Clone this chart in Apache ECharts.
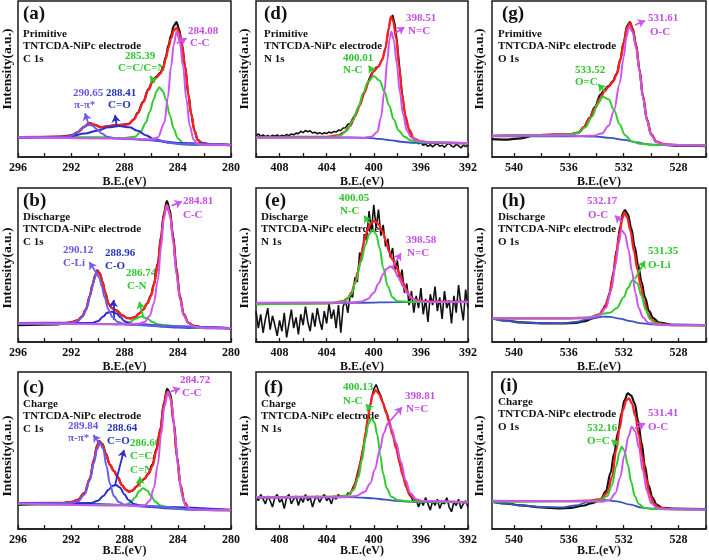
<!DOCTYPE html>
<html><head><meta charset="utf-8">
<script src="https://cdn.jsdelivr.net/npm/echarts@6/dist/echarts.min.js"></script>
<style>html,body{margin:0;padding:0;background:#fff}#c{width:709px;height:560px}</style>
</head><body><div id="c"></div>
<script>
// ---------- tick labels ----------
const C_LABELS = [280,284,288,292,296];
const C_TICKS  = [280,282,284,286,288,290,292,294,296];
const N_LABELS = [392,396,400,404,408];
const N_TICKS  = [392,394,396,398,400,402,404,406,408,410];
const O_LABELS = [528,532,536,540];
const O_TICKS  = [526,528,530,532,534,536,538,540];

// ---------- texts ----------
const PANEL_LETTERS = ['(a)','(b)','(c)','(d)','(e)','(f)','(g)','(h)','(i)'];
const STATES = ['Primitive','Discharge','Charge'];
const ELECTRODE = 'TNTCDA-NiPc electrode';
const LEVELS = ['C 1s','N 1s','O 1s'];
const X_NAME = 'B.E.(eV)';
const Y_NAME = 'Intensity(a.u.)';

// ---------- (a) Primitive C 1s ----------
const a_raw = [[296,12.6],[294,12.8],[292.5,13],[292,13.8],[291.5,16],[291,19.5],[290.65,21.8],[290.2,20.5],[289.8,19.2],[289.3,19.6],[288.8,20.3],[288.2,20.6],[287.7,21.2],[287.3,24.2],[287,28.5],[286.6,35.5],[286.2,43.5],[285.9,48.5],[285.6,51.5],[285.3,54],[285.1,57.5],[284.9,64],[284.7,71.5],[284.5,78],[284.3,84],[284.1,86.5],[283.9,82],[283.7,73],[283.45,58.5],[283.2,40],[283,28],[282.75,17],[282.5,11],[282.2,9],[281.5,8],[280,7.6]];
const a_fit = [[296,12.8],[293,13],[292,13.8],[291.5,16],[291,19.5],[290.65,21.6],[290.2,20.5],[289.8,19],[289.3,19.5],[288.8,20.2],[288.2,20.5],[287.7,21],[287.3,24],[287,28],[286.6,35],[286.2,43],[285.9,48],[285.6,51],[285.3,53.5],[285.1,57],[284.9,63],[284.7,70],[284.5,76],[284.3,81],[284.1,82.7],[283.9,80],[283.7,72],[283.45,58],[283.2,40],[283,28],[282.75,17],[282.5,11],[282.2,9],[281.5,8],[280,7.7]];
const a_bg  = [[296,12.6],[290,12.4],[288,11.8],[286.5,11],[285.5,10.2],[284.5,9],[283.5,8],[282.5,7.7],[280,7.6]];
const a_pi  = [[296,12.6],[292.5,12.8],[292,13.5],[291.6,15.5],[291.2,18.5],[290.9,20],[290.65,20.5],[290.4,20],[290.1,18],[289.7,15],[289.3,13],[288.8,12],[288,11.5],[286,11],[284,8.5],[280,7.7]];
const a_co  = [[296,12.6],[293,12.8],[292,13.5],[291,15],[290,17],[289.2,19],[288.41,19.9],[287.6,19],[287,16.8],[286.4,14],[285.8,11.5],[285,10],[284,9],[280,7.7]];
const a_ccn = [[296,12.8],[290,12.6],[288,12.2],[287.2,13],[286.8,16],[286.4,22],[286.1,29],[285.8,37],[285.6,42],[285.39,44.7],[285.1,42],[284.9,37],[284.6,27],[284.3,18],[284,12],[283.6,9],[283,8],[280,7.7]];
const a_cc  = [[296,12.6],[288,11.8],[286,11.4],[285.5,12.5],[285,22],[284.75,38],[284.5,58],[284.3,72],[284.08,80.3],[283.85,74],[283.6,58],[283.35,37],[283.1,20],[282.8,11],[282.5,8.3],[282,7.8],[280,7.7]];

// ---------- (b) Discharge C 1s ----------
const b_raw = [[296,11],[293,11.5],[292.5,12.2],[292,12.8],[291.5,14],[291.2,16.5],[290.9,21],[290.6,30],[290.4,37.5],[290.2,43.5],[290.05,46.5],[289.85,44.5],[289.65,39],[289.45,32],[289.2,25],[288.95,22],[288.6,20.5],[288.2,17.5],[287.8,15.6],[287.5,15.3],[287.2,16.2],[286.9,18.5],[286.6,21],[286.3,25],[286,30.5],[285.8,37.5],[285.5,51],[285.25,69],[285.05,83],[284.82,91.5],[284.6,86],[284.35,69],[284.1,48],[283.85,30],[283.55,18],[283.2,12.5],[282.8,10.5],[282,9.3],[280,8.9]];
const b_fit = [[296,12.2],[292.5,12.4],[292,12.8],[291.5,14],[291.2,16.5],[290.9,21],[290.6,30],[290.4,37],[290.2,43],[290.05,46],[289.85,44],[289.65,39],[289.45,32],[289.2,25],[288.95,22],[288.6,20.5],[288.2,17.5],[287.8,15.6],[287.5,15.4],[287.2,16.3],[286.9,18.5],[286.6,21],[286.3,25],[286,30],[285.8,37],[285.5,50],[285.25,68],[285.05,82],[284.85,89],[284.6,84],[284.35,68],[284.1,47],[283.85,30],[283.55,18],[283.2,12.5],[282.8,10.5],[282,9.3],[280,9]];
const b_bg  = [[296,12],[292,11.9],[290,11.8],[288,11.4],[287,11],[286,10.5],[285,9.8],[284,9.3],[283,9],[280,8.9]];
const b_cli = [[296,12],[292,12.3],[291.5,13.5],[291.1,17],[290.8,23],[290.5,33],[290.3,40],[290.12,44.6],[289.9,42],[289.7,36],[289.5,29],[289.2,21],[288.9,16],[288.5,13],[288,11.5],[287,11],[284,10],[280,8.9]];
const b_co  = [[296,12],[290.5,12.3],[290,13.5],[289.6,16.5],[289.3,19],[288.96,19.7],[288.6,18.5],[288.3,16],[288,13.5],[287.6,12],[287,11.5],[284,10],[280,8.9]];
const b_cn  = [[296,11.8],[288.5,11.6],[288,12],[287.6,13],[287.2,15],[286.74,16.5],[286.3,15.3],[285.9,13],[285.5,11.5],[285,11],[284,10],[282,9],[280,8.9]];
const b_cc  = [[296,12],[288,11.5],[287,11.8],[286.5,13],[286.1,17],[285.8,25],[285.5,40],[285.25,62],[285.05,80],[284.81,89],[284.55,81],[284.35,65],[284.1,44],[283.85,28],[283.55,17],[283.2,12],[282.8,10],[282,9],[280,8.9]];

// ---------- (c) Charge C 1s ----------
const c_raw = [[296,15.3],[293,16],[292.5,16.7],[292,17.2],[291.5,18.5],[291,23],[290.6,32],[290.3,44],[290.05,53.5],[289.9,56],[289.65,54],[289.4,48],[289.1,41],[288.8,37],[288.5,33],[288.2,28],[287.9,25],[287.65,23.8],[287.4,24.5],[287.1,27],[286.8,30],[286.5,32],[286.2,35.5],[285.9,41],[285.6,51],[285.3,64],[285.05,80],[284.8,89.2],[284.55,86],[284.3,68],[284.05,46],[283.8,28],[283.5,17],[283.2,13.5],[282.8,12.5],[282,12.1],[280,12]];
const c_fit = [[296,16.5],[292.5,16.7],[292,17.2],[291.5,18.5],[291,23],[290.6,32],[290.3,44],[290.05,53],[289.9,55.6],[289.65,53.5],[289.4,47.5],[289.1,41],[288.8,37],[288.5,33],[288.2,28],[287.9,25],[287.65,23.8],[287.4,24.5],[287.1,27],[286.8,30],[286.5,32],[286.2,35],[285.9,40],[285.6,50],[285.3,63],[285.05,79],[284.8,87.5],[284.55,84],[284.3,67],[284.05,45],[283.8,28],[283.5,17],[283.2,13.5],[282.8,12.6],[282,12.2],[280,12.1]];
const c_bg  = [[296,16.3],[292,16.2],[290,16],[288,15.3],[286,14],[285,13.2],[284,12.7],[283,12.3],[280,12.1]];
const c_pi  = [[296,16.3],[292,16.5],[291.5,17.5],[291,22],[290.6,31],[290.3,42],[290.05,51],[289.84,54.6],[289.6,51],[289.35,40],[289.1,29],[288.8,21],[288.4,17],[288,15.5],[287,15],[285,14],[283,12.5],[280,12.1]];
const c_co  = [[296,16.3],[290.5,16.5],[290,18],[289.6,21],[289.2,25],[288.9,27.5],[288.64,28],[288.35,26.5],[288,22],[287.7,18.5],[287.3,16],[286.8,15],[285,14],[280,12.1]];
const c_ccn = [[296,15.8],[289,15.3],[288,15.3],[287.6,16.5],[287.2,20],[286.9,24],[286.6,25.9],[286.3,24.5],[286,21],[285.7,17.5],[285.3,15],[284.8,14],[284,13],[282,12.3],[280,12.1]];
const c_cc  = [[296,16.3],[288,15],[287,14.5],[286.5,15],[286.1,18],[285.8,26],[285.5,41],[285.25,60],[285,78],[284.72,87.5],[284.45,80],[284.2,60],[283.95,38],[283.7,22],[283.4,14.5],[283,12.6],[282,12.2],[280,12.1]];

// ---------- N 1s raw data grid ----------
const N_BE = [410,409.8,409.6,409.4,409.2,409,408.8,408.6,408.4,408.2,408,407.8,407.6,407.4,407.2,407,406.8,406.6,406.4,406.2,406,405.8,405.6,405.4,405.2,405,404.8,404.6,404.4,404.2,404,403.8,403.6,403.4,403.2,403,402.8,402.6,402.4,402.2,402,401.8,401.6,401.4,401.2,401,400.8,400.6,400.4,400.2,400,399.8,399.6,399.4,399.2,399,398.8,398.6,398.4,398.2,398,397.8,397.6,397.4,397.2,397,396.8,396.6,396.4,396.2,396,395.8,395.6,395.4,395.2,395,394.8,394.6,394.4,394.2,394,393.8,393.6,393.4,393.2,393,392.8,392.6,392.4,392.2,392];

// ---------- (d) Primitive N 1s ----------
const d_raw = [13.5,14.8,13.2,14.1,13.0,13.8,12.9,14.0,13.3,14.2,13.1,13.9,13.4,14.5,13.6,14.8,14.2,15.3,15.0,16.5,15.6,17.0,16.2,16.8,15.4,15.9,14.9,15.6,14.8,15.5,15.0,16.0,15.4,16.3,16.0,17.2,17.0,18.6,18.8,21.0,21.5,24.5,26.8,29.5,33.5,37.0,41.5,45.0,50.0,53.5,55.5,57.5,58.0,61.0,64.0,70.0,79.0,88.0,91.0,85.0,73.0,57.0,42.0,30.0,22.0,17.0,13.5,11.5,10.0,8.5,9.2,7.5,8.3,6.8,7.9,6.5,7.8,8.5,6.9,7.6,6.2,7.9,8.8,7.0,6.4,8.1,7.2,5.8,7.6,6.6,7.8];
const d_fit = [[410,12.7],[404,12.9],[403,14],[402.5,16],[402,20],[401.6,26],[401.2,33],[400.8,41],[400.4,49],[400,55],[399.6,58],[399.3,62],[399,70],[398.75,82],[398.55,90],[398.35,87],[398.1,76],[397.85,58],[397.6,40],[397.3,26],[397,17.5],[396.6,12],[396,10],[395,9.2],[392,8.8]];
const d_bg  = [[410,12.6],[402,12.6],[400.5,12.3],[399.5,11.6],[398.5,10.6],[397.5,9.6],[396.5,9],[392,8.8]];
const d_nc  = [[410,12.5],[403.5,12.7],[402.8,14],[402.3,17],[401.8,23],[401.3,32],[400.9,41],[400.5,48],[400.01,51.9],[399.5,49],[399.1,42],[398.7,33],[398.3,24],[397.9,17],[397.4,13],[396.8,10.5],[396,9.5],[392,8.8]];
const d_ndc = [[410,12.3],[401,12.3],[400.2,13],[399.7,16],[399.4,25],[399.1,42],[398.85,62],[398.65,76],[398.51,80.3],[398.3,75],[398.05,60],[397.8,42],[397.5,27],[397.2,17],[396.8,12.5],[396.3,10.5],[395.5,9.5],[392,8.8]];

// ---------- (e) Discharge N 1s ----------
const e_raw = [20,9,18,6,15,22,8,17,11,4,14,7,19,3,12,21,9,16,5,18,11,23,13,7,19,10,22,14,8,20,12,25,15,21,9,24,6,23,27,19,31,29,42,39,58,55,70,66,85,72,89,74,86,69,76,62,67,55,61,46,53,40,47,32,38,24,33,19,30,22,35,18,28,13,31,24,36,20,29,15,33,22,27,12,30,19,37,24,14,34,22];
const e_fit = [[410,24.6],[403.5,25.2],[402.6,26.5],[402.2,28.5],[401.9,32],[401.6,38],[401.35,45.7],[401.1,54],[400.9,63],[400.7,69],[400.5,73.8],[400.2,77.5],[399.95,78.6],[399.6,76.5],[399.25,71.6],[398.95,65],[398.7,58.7],[398.4,53.5],[398.1,49],[397.8,44],[397.55,39],[397.25,34],[397,30.5],[396.7,28.3],[396.4,27.3],[395.85,26.3],[392,26.1]];
const e_bg  = [[410,25.3],[401,25.5],[398,25.9],[392,26.2]];
const e_nc  = [[410,24.5],[404,25],[403,25.6],[402.4,27],[401.9,31],[401.5,40],[401.1,52],[400.7,63],[400.4,70],[400.1,72.7],[399.8,70],[399.5,61],[399.2,48],[398.8,36],[398.4,29],[398,26.5],[397,26],[392,26]];
const e_ndc = [[410,25.5],[402,25.6],[401,26.3],[400.5,28],[400,32],[399.6,38],[399.2,44],[398.9,47.5],[398.58,49],[398.3,47.5],[397.9,42],[397.5,36],[397.1,31],[396.7,28],[396.2,26.5],[395.5,26],[392,26]];

// ---------- (f) Charge N 1s ----------
const f_raw = [21,18,22,19,16,21,18,14,20,22,17,19,13,20,22,16,19,21,15,20,17,22,18,20,14,19,21,17,20,22,18,20,16,21,19,22,20,21,20,23,22,26,29,35,41,48,56,66,75,83,89,92,88,85,80,76,72,65,61,55,49,42,36,31,26,22,20,17,19,14,18,15,20,16,12,18,15,19,13,17,16,20,14,11,17,15,19,13,16,18,14];
const f_fit = [[410,20.2],[403.5,20.5],[402.35,21],[402,23],[401.8,24.8],[401.55,29],[401.36,34.4],[401.1,43],[400.9,51.4],[400.7,61],[400.5,70.5],[400.3,79],[400.1,85.4],[399.85,88.5],[399.55,86],[399.25,81],[398.95,74],[398.7,68.4],[398.4,60],[398.1,51.4],[397.8,42],[397.55,34.4],[397.25,27],[397,22.7],[396.7,20],[396.4,18.5],[396,17.6],[392,17.1]];
const f_bg  = [[410,20],[403,20.3],[402,20.3],[401,20],[400,19.5],[399,18.7],[398,17.9],[397,17.4],[396,17.1],[392,17]];
const f_nc  = [[410,20],[403,20.5],[402.2,21.5],[401.7,25],[401.3,33],[401,44],[400.7,58],[400.45,67],[400.2,70.5],[399.95,68],[399.7,60],[399.45,47],[399.2,35],[398.9,26],[398.5,20.5],[398,18.5],[397,17.5],[392,17]];
const f_ndc = [[410,20.2],[402.5,20.3],[401.5,21],[400.8,23.5],[400.3,29],[399.9,38],[399.5,50],[399.15,61],[398.81,67.3],[398.5,64],[398.1,55],[397.7,43],[397.3,31],[396.9,23],[396.4,19],[395.8,17.8],[392,17]];

// ---------- (g) Primitive O 1s ----------
const g_raw = [[541.6,11.5],[540.5,11.2],[539.5,12],[538.5,13.8],[537,14.3],[536,14.4],[535.3,15.6],[534.9,19.2],[534.5,25],[534.1,32],[533.7,40],[533.4,43],[533.1,45.5],[532.8,48.5],[532.5,53.5],[532.25,62.5],[532,73.5],[531.75,84],[531.55,86.5],[531.35,82.5],[531.1,72],[530.85,56],[530.6,39],[530.3,24],[530,14.5],[529.6,9.6],[529,7.8],[528,7.2],[526,7]];
const g_fit = [[541.6,13.6],[538,14.2],[536,14.3],[535.3,15.5],[534.9,19],[534.5,24.5],[534.1,31],[533.7,38],[533.4,42],[533.1,45],[532.8,48],[532.5,53],[532.25,62],[532,73],[531.75,83],[531.55,86],[531.35,82],[531.1,72],[530.85,56],[530.6,39],[530.3,24],[530,14.5],[529.6,9.8],[529,8.2],[528,7.6],[526,7.4]];
const g_bg  = [[541.6,13.3],[535,13.2],[534,13],[533,12.3],[532,11],[531,9.3],[530.3,8.2],[529.5,7.7],[526,7.5]];
const g_oc2 = [[541.6,13.8],[537,14],[536,14.3],[535.3,15.5],[534.8,19],[534.3,26],[533.9,34],[533.52,38.7],[533.1,37],[532.7,30],[532.3,21],[531.9,14],[531.4,10],[530.8,8.5],[530,7.8],[526,7.4]];
const g_oc  = [[541.6,13.5],[536,13.8],[535,13.5],[534.2,13.6],[533.6,15],[533.1,20],[532.7,30],[532.3,47],[532,64],[531.8,77],[531.61,83.5],[531.35,80],[531.1,70],[530.85,55],[530.6,38],[530.3,23],[530,14],[529.6,9.5],[529,8],[527.5,7.5],[526,7.4]];

// ---------- (h) Discharge O 1s ----------
const h_raw = [[541.6,15.4],[540.5,13.8],[539.5,12.7],[538,12.1],[536.5,12],[535.5,12.4],[534.8,13.5],[534.2,15.5],[533.7,18],[533.3,24],[533,32],[532.75,45],[532.5,60],[532.25,75],[532.05,84],[531.9,85.7],[531.7,83],[531.45,74],[531.2,62],[530.95,50],[530.7,39],[530.45,29],[530.15,20],[529.85,15.5],[529.4,12.6],[528.5,11.2],[526,11]];
const h_fit = [[541.6,15.4],[536,15.4],[534.5,15.8],[533.8,18],[533.4,22],[533.1,29],[532.8,42],[532.55,57],[532.3,71],[532.1,80],[531.95,84.2],[531.75,81],[531.5,72],[531.25,59],[531,47],[530.75,36],[530.5,26],[530.2,18],[529.9,14],[529.5,12],[528.5,11],[526,10.8]];
const h_bg  = [[541.6,15.2],[540.5,13.7],[539.5,12.8],[538,12.2],[536.5,12.2],[535.5,13],[534.6,14.8],[534,15.8],[533.5,16.5],[533,16.3],[532.3,15.2],[531.5,13.5],[530.8,12.3],[530,11.5],[526,11]];
const h_oli = [[541.6,15.3],[535,15.4],[534.2,16.5],[533.6,18.3],[533,19],[532.5,22],[532,29],[531.7,35],[531.35,40.3],[531,38],[530.7,30],[530.4,21],[530.1,15],[529.7,12],[529,11],[526,10.8]];
const h_oc  = [[541.6,15.4],[536,15.4],[534.5,15.6],[533.8,17],[533.3,22],[532.9,34],[532.6,50],[532.35,64],[532.17,72.7],[531.9,70],[531.65,60],[531.4,46],[531.15,32],[530.9,22],[530.6,16],[530.2,12.5],[529.5,11],[526,10.8]];

// ---------- (i) Charge O 1s ----------
const i_raw = [[541.6,17.4],[540.5,16.2],[539.5,15],[538,13.8],[536.8,13.2],[535.8,13.5],[535,14.8],[534.3,16.5],[533.7,18.5],[533.3,24],[532.95,36],[532.7,48],[532.4,62],[532.15,74],[531.95,82],[531.7,86.4],[531.45,85],[531.2,80],[530.95,69],[530.7,55],[530.45,40],[530.2,28],[529.9,20],[529.6,15.5],[529.2,13.5],[528.5,13],[526,12.6]];
const i_fit = [[541.6,17.6],[536,17.8],[534.5,18],[533.7,19],[533.2,23],[532.85,33],[532.55,50],[532.3,64],[532.05,76],[531.8,82],[531.62,83.2],[531.4,80],[531.15,72],[530.9,60],[530.65,46],[530.4,33],[530.1,22],[529.8,16],[529.4,13.5],[528.5,12.7],[526,12.4]];
const i_bg  = [[541.6,17.2],[540.5,16.1],[539.5,15],[538,14],[536.5,13.8],[535.5,15],[534.5,17.5],[533.5,18.5],[532.5,17.6],[531.5,15.5],[530.7,13.6],[530,13],[526,12.6]];
const i_oc2 = [[541.6,17.4],[536,17.6],[534.5,17.8],[533.7,18.3],[533.2,21],[532.85,28],[532.55,40],[532.3,49],[532.16,52.4],[531.95,50],[531.7,41],[531.45,30],[531.2,21],[530.9,16],[530.5,13.5],[530,12.8],[526,12.3]];
const i_oc  = [[541.6,18],[536,17.8],[534.5,17.6],[533.6,17.4],[533,18.5],[532.6,23],[532.25,33],[531.95,47],[531.65,59],[531.41,65.2],[531.15,62],[530.9,52],[530.6,37],[530.3,24],[530,16.5],[529.6,13.5],[529,12.6],[526,12.3]];

// ---------- peak label texts ----------
const PEAK_TEXT = [
  ['284.08','C-C','285.39','C=C/C=N','290.65','π-π*','288.41','C=O'],
  ['284.81','C-C','290.12','C-Li','288.96','C-O','286.74','C-N'],
  ['284.72','C-C','289.84','π-π*','288.64','C=O','286.60','C=C/','C=N'],
  ['398.51','N=C','400.01','N-C'],
  ['400.05','N-C','398.58','N=C'],
  ['400.13','N-C','398.81','N=C'],
  ['531.61','O-C','533.52','O=C'],
  ['532.17','O-C','531.35','O-Li'],
  ['531.41','O-C','532.16','O=C']
];

// ================= layout & styling =================
const FONT = '"Liberation Serif","Times New Roman",serif';
const COL = {black:'#111111', red:'#ff1f1f', mag:'#cc55ee', green:'#2fcc2f', lav:'#6a5cf0', dblue:'#2a2ccc', bg:'#3a52c2'};
const LCOL = {mag:'#c54ce6', green:'#2ec62e', lav:'#6655ee', dblue:'#2233bb'};

const ROWS = [{top:1,height:156},{top:188,height:154},{top:372,height:157}];
const COLS = [
  {left:18, width:213, min:280, max:296,   labels:C_LABELS, ticks:C_TICKS},
  {left:256,width:212, min:392, max:410,   labels:N_LABELS, ticks:N_TICKS},
  {left:492,width:214, min:526, max:541.6, labels:O_LABELS, ticks:O_TICKS}
];

const toPairs = (arr) => N_BE.map((x,k)=>[x,arr[k]]);

const PANELS = [
  {raw:a_raw, fit:a_fit, bg:a_bg, comps:[['green',a_ccn],['dblue',a_co],['lav',a_pi],['mag',a_cc]],
   arrows:[['mag',[284.08,72.9],[283.33,76.1]],['green',[285.71,47.6],[286.08,51.9]],['lav',[290.72,21.6],[290.97,28]],['dblue',[288.59,20],[288.71,26.9]]]},
  {raw:b_raw, fit:b_fit, bg:b_bg, comps:[['green',b_cn],['dblue',b_co],['lav',b_cli],['mag',b_cc]],
   arrows:[['mag',[284.45,88.5],[283.7,91.1]],['lav',[290.09,44.6],[290.64,51.8]],['dblue',[288.84,14.3],[288.84,27.3]],['green',[286.59,16.4],[286.89,26.2]]]},
  {raw:c_raw, fit:c_fit, bg:c_bg, comps:[['green',c_ccn],['dblue',c_co],['lav',c_pi],['mag',c_cc]],
   arrows:[['mag',[284.53,87.5],[283.83,89.6]],['lav',[289.89,54.6],[290.34,59.9]],['dblue',[288.71,28],[288.04,50.3]],['green',[286.84,26.9],[286.84,33.3]]]},
  {raw:toPairs(d_raw), noisy:true, fit:d_fit, bg:d_bg, comps:[['green',d_nc],['mag',d_ndc]],
   arrows:[['mag',[398.18,79.3],[397.41,83.1]],['green',[400.09,54.7],[400.43,58.5]]]},
  {raw:toPairs(e_raw), noisy:true, fit:e_fit, bg:e_bg, comps:[['green',e_nc],['mag',e_ndc]],
   arrows:[['green',[400.38,77.1],[400.81,82]],['mag',[398.4,48.9],[397.69,57.6]]]},
  {raw:toPairs(f_raw), noisy:true, fit:f_fit, bg:f_bg, comps:[['green',f_nc],['mag',f_ndc]],
   arrows:[['green',[400.24,75.8],[400.66,79.4]],['mag',[398.68,68.3],[397.61,77.5]]]},
  {raw:g_raw, fit:g_fit, bg:g_bg, comps:[['green',g_oc2],['mag',g_oc]],
   arrows:[['mag',[531.18,84.6],[530.45,87.4]],['green',[533.36,41.9],[533.85,46.6]]]},
  {raw:h_raw, fit:h_fit, bg:h_bg, comps:[['green',h_oli],['mag',h_oc]],
   arrows:[['mag',[532.15,78.1],[532.63,82]],['green',[531.18,40.9],[530.45,52.6]]]},
  {raw:i_raw, fit:i_fit, bg:i_bg, comps:[['green',i_oc2],['mag',i_oc]],
   arrows:[['mag',[531.18,64.1],[530.45,67.3]],['green',[532.39,53.1],[532.87,56.7]]]}
];

// header positions: letter x,y ; text block x,y
const HEAD = [[23,5,23,27.5],[23,192,23,210.5],[23,379,23,397.5],
              [264,5,264,27.5],[265,192,261,210.5],[264,379,261,397.5],
              [502,5,498,27.5],[502,192,498,210.5],[500,377,498,395.5]];
// peak label positions (x, cap-top y, colour) in the same order as PEAK_TEXT
const PEAK_POS = [
  [[188,28,'mag'],[190,40,'mag'],[125,53,'green'],[118,65,'green'],[73,90,'lav'],[74,102,'lav'],[106,90,'dblue'],[108,102,'dblue']],
  [[183,198,'mag'],[183,212,'mag'],[63,247,'lav'],[63,260,'lav'],[105,250,'dblue'],[105,263,'dblue'],[126,270,'green'],[127,283,'green']],
  [[180,377,'mag'],[182,390,'mag'],[68,423,'lav'],[68,435,'lav'],[107,425,'dblue'],[107,438,'dblue'],[130,440,'green'],[130,453,'green'],[130,467,'green']],
  [[406,15,'mag'],[408,28,'mag'],[343,55,'green'],[343,67,'green']],
  [[339,195,'green'],[340,208,'green'],[406,237,'mag'],[407,250,'mag']],
  [[343,384,'green'],[343,398,'green'],[405,393,'mag'],[406,406,'mag']],
  [[648,15,'mag'],[650,29,'mag'],[575,67,'green'],[575,79,'green']],
  [[587,198,'mag'],[588,212,'mag'],[648,248,'green'],[648,262,'green']],
  [[648,410,'mag'],[648,424,'mag'],[587,425,'green'],[587,438,'green']]
];
const YNAME_POS = [[8,69],[8,268],[8,456],[245,69],[245,268],[245,456],[480,69],[480,268],[480,456]];
const XNAME_Y = [176,361,545];

const grid=[], xAxis=[], yAxis=[], series=[], graphic=[];

function txt(x,y,text,color,size,extra){
  graphic.push(Object.assign({type:'text', x:x, y:y, z:0,
    style:{text:text, fill:color, font:'bold '+size+'px '+FONT, textVerticalAlign:'top', textAlign:'left'}}, extra||{}));
}

for (let p=0;p<9;p++){
  const c = COLS[Math.floor(p/3)], r = ROWS[p%3];
  grid.push({left:c.left, top:r.top, width:c.width, height:r.height, show:true,
    borderColor:'#1a1a1a', borderWidth:1.5, backgroundColor:'rgba(0,0,0,0)', outerBoundsMode:'none', containLabel:false});
  xAxis.push({type:'value', gridIndex:p, inverse:true, min:c.min, max:c.max,
    axisLine:{show:true, onZero:false, lineStyle:{color:'#1a1a1a', width:1.5}},
    axisTick:{show:true, inside:true, length:4, customValues:c.ticks, lineStyle:{color:'#1a1a1a', width:1.3}},
    axisLabel:{show:true, customValues:c.labels, margin:5, color:'#111', fontFamily:FONT, fontWeight:'bold', fontSize:12},
    splitLine:{show:false}});
  yAxis.push({type:'value', gridIndex:p, min:0, max:100,
    axisLine:{show:false}, axisTick:{show:false}, axisLabel:{show:false}, splitLine:{show:false}});

  const P = PANELS[p];
  const base = {type:'line', xAxisIndex:p, yAxisIndex:p, showSymbol:false, symbol:'none', silent:true, animation:false};
  series.push(Object.assign({}, base, {data:P.raw, smooth:P.noisy?false:0.35, smoothMonotone:'x', z:3,
    lineStyle:{color:COL.black, width:P.noisy?1.6:2.2}}));
  series.push(Object.assign({}, base, {data:P.fit, smooth:0.35, smoothMonotone:'x', z:4,
    lineStyle:{color:COL.red, width:2.3}}));
  series.push(Object.assign({}, base, {data:P.bg, smooth:0.35, smoothMonotone:'x', z:5,
    lineStyle:{color:COL.bg, width:1.8}}));
  P.comps.forEach(([key,data])=>{
    const arr = P.arrows.filter(a=>a[0]===key).map(a=>[{coord:a[1]},{coord:a[2]}]);
    series.push(Object.assign({}, base, {data:data, smooth:0.35, smoothMonotone:'x', z:6,
      lineStyle:{color:COL[key], width:2},
      markLine: arr.length ? {silent:true, animation:false, symbol:['none','arrow'], symbolSize:[7,7],
        label:{show:false}, lineStyle:{color:COL[key], width:1.8, type:'solid'}, emphasis:{disabled:true}, data:arr} : undefined}));
  });

  // texts
  const H = HEAD[p];
  txt(H[0], H[1], PANEL_LETTERS[p], '#111', 19);
  txt(H[2], H[3], STATES[p%3]+'\n'+ELECTRODE+'\n'+LEVELS[Math.floor(p/3)], '#111', 11, {style:{text:STATES[p%3]+'\n'+ELECTRODE+'\n'+LEVELS[Math.floor(p/3)], fill:'#111', font:'bold 11px '+FONT, lineHeight:12.5, textVerticalAlign:'top', textAlign:'left'}});
  PEAK_POS[p].forEach((pos,k)=>{ txt(pos[0], pos[1]-2.5, PEAK_TEXT[p][k], LCOL[pos[2]], 11); });
  graphic.push({type:'text', x:YNAME_POS[p][0], y:YNAME_POS[p][1], rotation:Math.PI/2, z:0,
    style:{text:Y_NAME, fill:'#111', font:'bold 13.5px '+FONT, textAlign:'center', textVerticalAlign:'middle'}});
  graphic.push({type:'text', x:c.left + c.width/2, y:XNAME_Y[p%3], z:0,
    style:{text:X_NAME, fill:'#111', font:'bold 12px '+FONT, textAlign:'center', textVerticalAlign:'top'}});
}

const chart = echarts.init(document.getElementById('c'), null, {renderer:'canvas'});
chart.setOption({animation:false, backgroundColor:'#ffffff', grid, xAxis, yAxis, series, graphic});
</script>
</body></html>
